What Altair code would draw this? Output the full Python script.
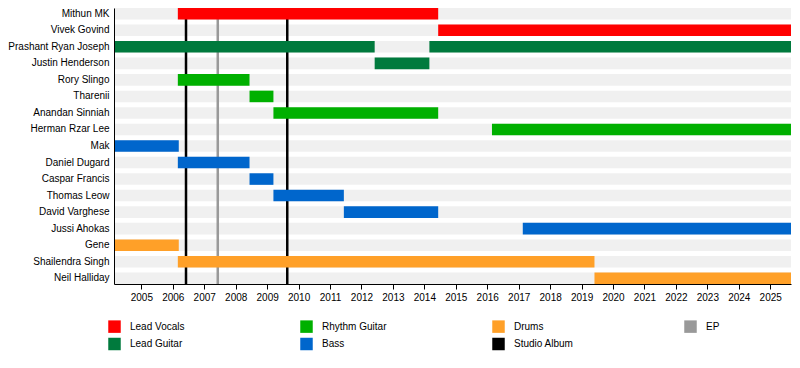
import altair as alt
import pandas as pd

# ---- data -------------------------------------------------------------
members = ["Mithun MK", "Vivek Govind", "Prashant Ryan Joseph", "Justin Henderson",
           "Rory Slingo", "Tharenii", "Anandan Sinniah", "Herman Rzar Lee", "Mak",
           "Daniel Dugard", "Caspar Francis", "Thomas Leow", "David Varghese",
           "Jussi Ahokas", "Gene", "Shailendra Singh", "Neil Halliday"]

START = 2004.13
END = 2025.66

bar_member = ["Mithun MK", "Vivek Govind", "Prashant Ryan Joseph", "Prashant Ryan Joseph",
              "Justin Henderson", "Rory Slingo", "Tharenii", "Anandan Sinniah",
              "Herman Rzar Lee", "Mak", "Daniel Dugard", "Caspar Francis", "Thomas Leow",
              "David Varghese", "Jussi Ahokas", "Gene", "Shailendra Singh", "Neil Halliday"]
bar_role = ["Lead Vocals", "Lead Vocals", "Lead Guitar", "Lead Guitar",
            "Lead Guitar", "Rhythm Guitar", "Rhythm Guitar", "Rhythm Guitar",
            "Rhythm Guitar", "Bass", "Bass", "Bass", "Bass",
            "Bass", "Bass", "Drums", "Drums", "Drums"]
bar_start = [2006.16, 2014.44, START, 2014.16,
             2012.42, 2006.16, 2008.44, 2009.20,
             2016.15, START, 2006.16, 2008.44, 2009.20,
             2011.44, 2017.13, START, 2006.16, 2019.41]
bar_end = [2014.44, END, 2012.42, END,
           2014.16, 2008.44, 2009.20, 2014.44,
           END, 2006.19, 2008.44, 2009.20, 2011.44,
           2014.44, END, 2006.19, 2019.41, END]

release_year = [2006.42, 2007.43, 2009.64]
release_type = ["Studio Album", "EP", "Studio Album"]

years = list(range(2005, 2026))

legend_order = ["Lead Vocals", "Lead Guitar", "Rhythm Guitar", "Bass",
                "Drums", "Studio Album", "EP"]
legend_colors = ["#ff0000", "#007a3d", "#00b000", "#0066cc",
                 "#ffa028", "#000000", "#999999"]

# ---- frames -----------------------------------------------------------
bars_df = pd.DataFrame({"member": bar_member, "role": bar_role,
                        "start": bar_start, "end": bar_end})
bg_df = pd.DataFrame({"member": members, "start": [START] * len(members),
                      "end": [END] * len(members)})
rel_df = pd.DataFrame({"year": release_year, "role": release_type})

FONT = "Liberation Sans"

x_scale = alt.Scale(domain=[START, END], nice=False, zero=False)
x_axis = alt.Axis(title=None, values=years, format="d", tickSize=5, tickColor="black",
                  domainColor="black", labelColor="black", labelFontSize=10,
                  labelFont=FONT, labelPadding=3, grid=False, labelFlush=False,
                  zindex=1)
y_enc = alt.Y("member:N", sort=members,
              scale=alt.Scale(paddingInner=0.3, paddingOuter=0),
              axis=alt.Axis(title=None, ticks=False, domainColor="black",
                            labelColor="black", labelFontSize=10, labelFont=FONT,
                            labelPadding=5, grid=False, zindex=1))

color_scale = alt.Scale(domain=legend_order, range=legend_colors)
legend = alt.Legend(title=None, orient="none", legendX=-6, legendY=312, columns=4,
                    symbolType="square", symbolSize=156, symbolStrokeWidth=0,
                    labelFontSize=10, labelFont=FONT, labelColor="black",
                    labelOffset=9, columnPadding=105, rowPadding=4.5,
                    gridAlign="all", padding=0)

bg = alt.Chart(bg_df).mark_bar(color="#f0f0f0").encode(
    x=alt.X("start:Q", scale=x_scale, axis=x_axis), x2="end:Q", y=y_enc)

rules = alt.Chart(rel_df).mark_rule(strokeWidth=2.5).encode(
    x=alt.X("year:Q", scale=x_scale, axis=x_axis),
    color=alt.Color("role:N", scale=color_scale, legend=legend))

bars = alt.Chart(bars_df).mark_bar().encode(
    x=alt.X("start:Q", scale=x_scale, axis=x_axis), x2="end:Q", y=y_enc,
    color=alt.Color("role:N", scale=color_scale, legend=legend))

chart = alt.layer(bg, rules, bars).properties(
    width=677, height=276,
    autosize=alt.AutoSizeParams(type="none"),
    padding={"left": 106, "top": 0, "right": 1, "bottom": 68},
).configure_view(stroke=None)

chart.save("out.html", embed_options={"renderer": "svg", "actions": False})
